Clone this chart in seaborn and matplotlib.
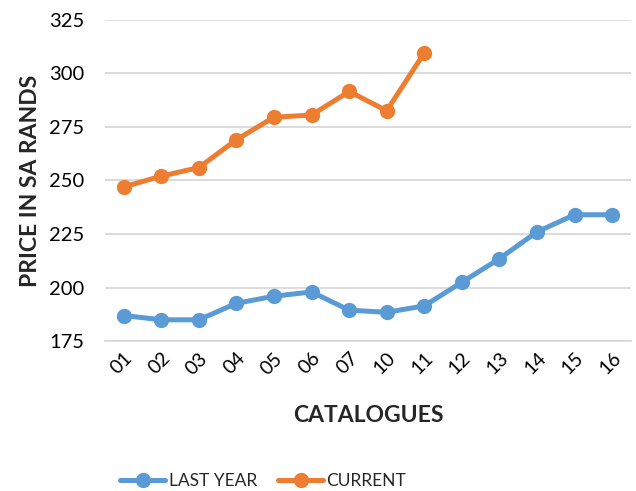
import matplotlib
matplotlib.use("Agg")
import matplotlib.pyplot as plt
import seaborn as sns
import pandas as pd
import numpy as np

catalogues = ["01", "02", "03", "04", "05", "06", "07", "10", "11", "12", "13", "14", "15", "16"]
last_year = [187, 185, 185, 192.7, 196, 198, 189.5, 188.5, 191.5, 202.5, 213.5, 226, 234, 234]
current = [247, 252, 256, 269, 279.5, 280.5, 291.5, 282.5, 309.5]
series_names = ["LAST YEAR", "CURRENT"]
colors = ["#5B9BD5", "#ED7D31"]
y_ticks = [175, 200, 225, 250, 275, 300, 325]

sns.set_style("white")
plt.rcParams["font.family"] = ["Lato", "DejaVu Sans"]

rows = []
for i, cat in enumerate(catalogues):
    rows.append({"cat": cat, "price": last_year[i], "series": series_names[0]})
for i, val in enumerate(current):
    rows.append({"cat": catalogues[i], "price": val, "series": series_names[1]})
df = pd.DataFrame(rows)

fig = plt.figure(figsize=(6.36, 4.91), dpi=100)
ax = fig.add_axes([0.165, 0.305, 0.827, 0.655])

sns.lineplot(data=df, x="cat", y="price", hue="series", hue_order=series_names,
             palette=colors, marker="o", markersize=11, markeredgewidth=0,
             linewidth=3.6, sort=False, ax=ax)

ax.set_xlim(-0.5, len(catalogues) - 0.5)
ax.set_ylim(175, 325)
ax.set_yticks(y_ticks)
ax.yaxis.grid(True, color="#D9D9D9", linewidth=1.3)
ax.set_axisbelow(True)
for s in ["top", "right", "left"]:
    ax.spines[s].set_visible(False)
ax.spines["bottom"].set_color("#D9D9D9")
ax.spines["bottom"].set_linewidth(1.3)
ax.tick_params(axis="y", length=0, labelsize=14.5, colors="black", pad=15)
ax.tick_params(axis="x", length=0, labelsize=14, colors="black", pad=6)
plt.setp(ax.get_xticklabels(), rotation=45, ha="right", rotation_mode="anchor")

ax.set_xlabel("CATALOGUES", fontsize=16.5, fontweight="bold")
ax.set_ylabel("PRICE IN SA RANDS", fontsize=16.5, fontweight="bold")
ax.xaxis.set_label_coords(0.5, -0.197)
ax.yaxis.set_label_coords(-0.122, 0.5)

handles, labels = ax.get_legend_handles_labels()
ax.get_legend().remove()
fig.legend(handles, labels, loc="center", bbox_to_anchor=(0.414, 0.02), ncol=2,
           frameon=False, fontsize=12.5, handlelength=2.6, columnspacing=1.2,
           handletextpad=0.2)

fig.savefig("out.png", dpi=100)
